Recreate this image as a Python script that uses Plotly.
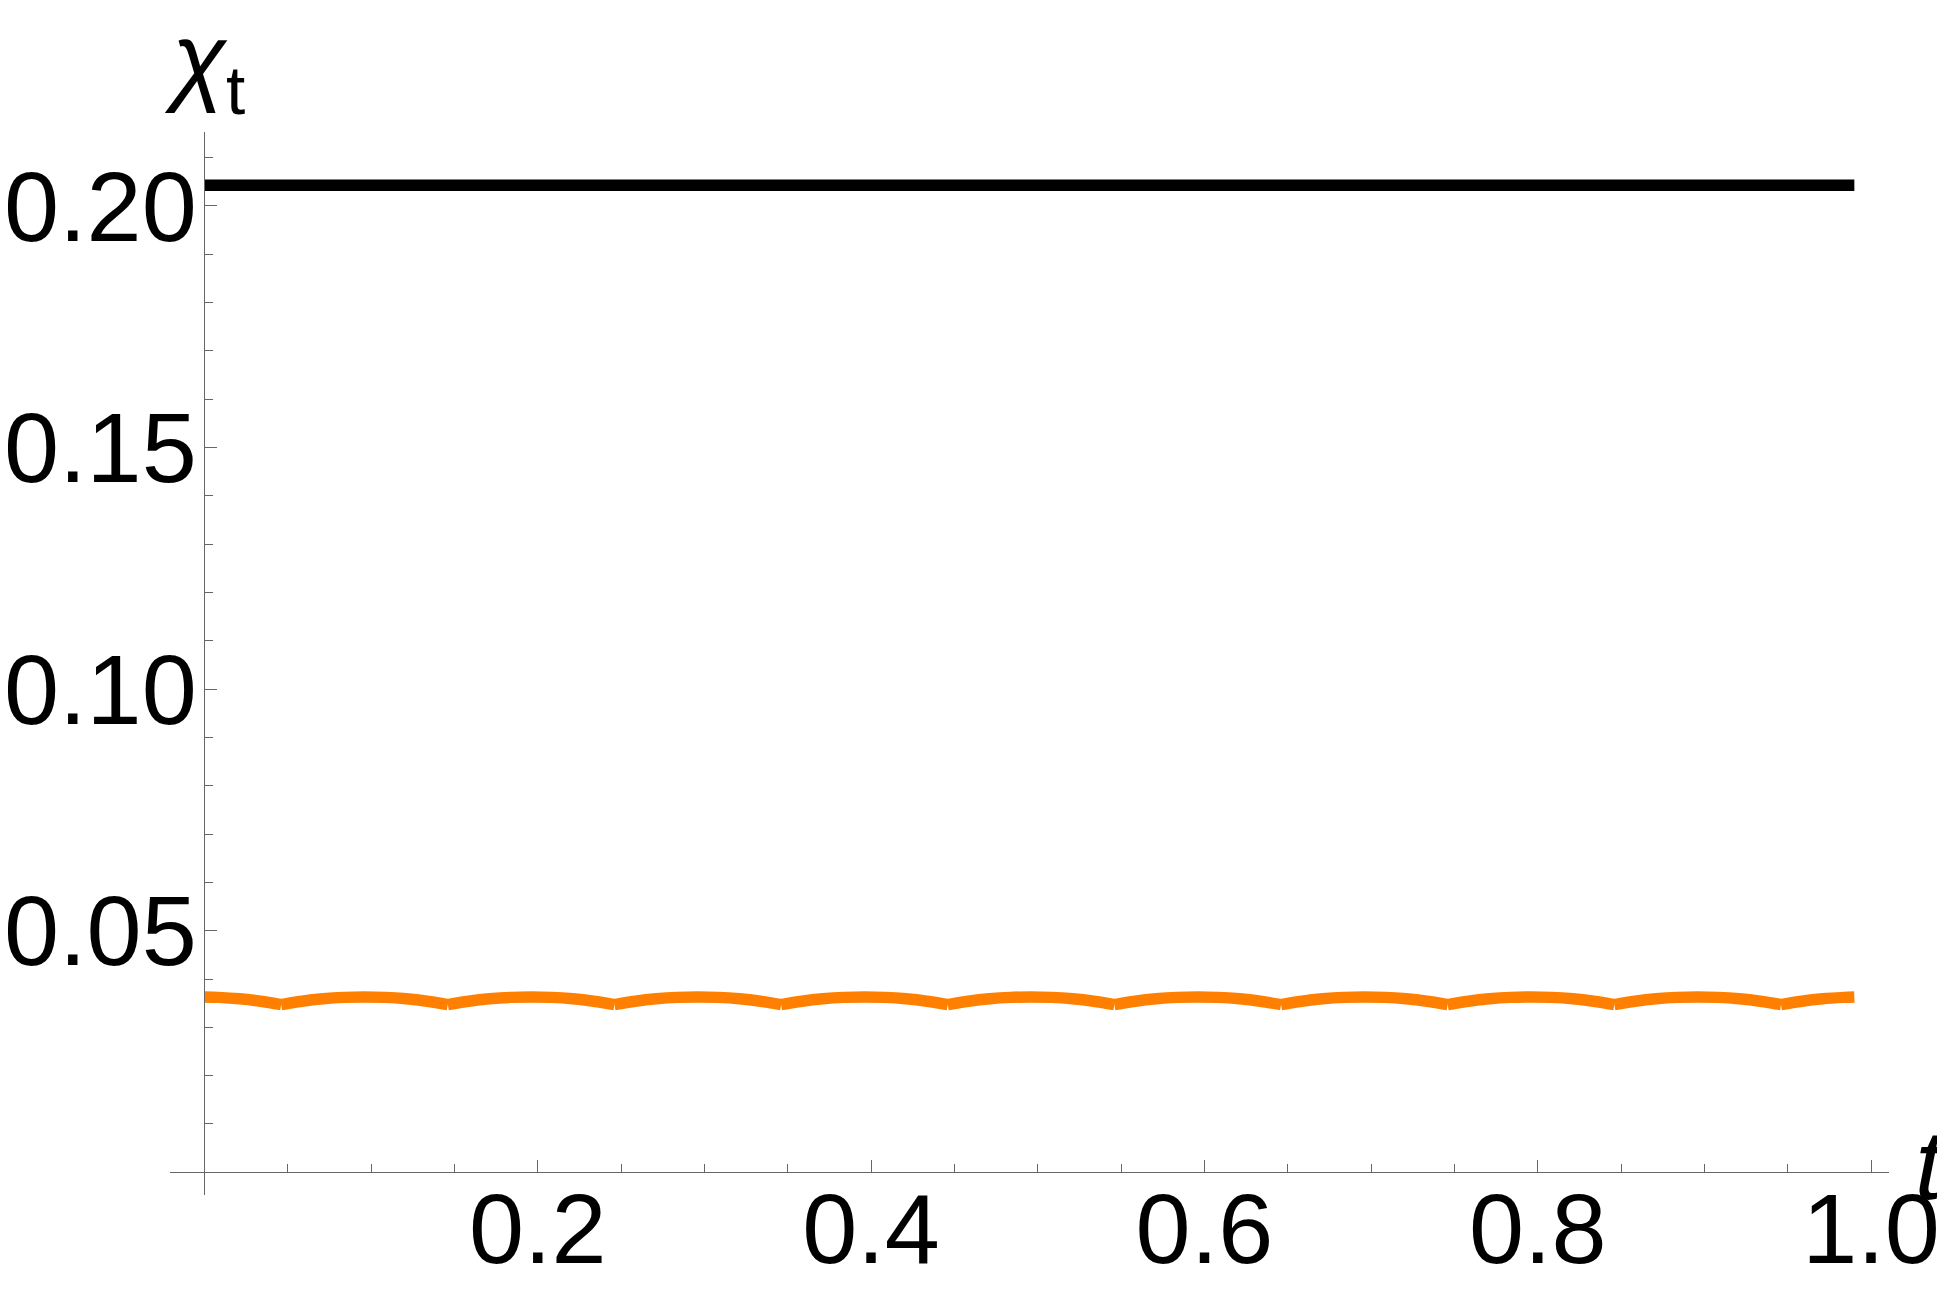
import plotly.graph_objects as go

# ligne noire (constante)
t_black = [0.0, 0.99]
x_black = [0.2043, 0.2043]

# courbe orange : arcs entre les points de rebroussement (None = coupure)
t_orange = [0.0, 0.0085, 0.021, 0.0335, 0.046, None,
            0.046, 0.0585, 0.071, 0.0835, 0.096, 0.1085, 0.121, 0.1335, 0.146, None,
            0.146, 0.1585, 0.171, 0.1835, 0.196, 0.2085, 0.221, 0.2335, 0.246, None,
            0.246, 0.2585, 0.271, 0.2835, 0.296, 0.3085, 0.321, 0.3335, 0.346, None,
            0.346, 0.3585, 0.371, 0.3835, 0.396, 0.4085, 0.421, 0.4335, 0.446, None,
            0.446, 0.4585, 0.471, 0.4835, 0.496, 0.5085, 0.521, 0.5335, 0.546, None,
            0.546, 0.5585, 0.571, 0.5835, 0.596, 0.6085, 0.621, 0.6335, 0.646, None,
            0.646, 0.6585, 0.671, 0.6835, 0.696, 0.7085, 0.721, 0.7335, 0.746, None,
            0.746, 0.7585, 0.771, 0.7835, 0.796, 0.8085, 0.821, 0.8335, 0.846, None,
            0.846, 0.8585, 0.871, 0.8835, 0.896, 0.9085, 0.921, 0.9335, 0.946, None,
            0.946, 0.9585, 0.971, 0.9835, 0.99]
x_orange = [0.0363, 0.0362, 0.0359, 0.0354, 0.0347, None,
            0.0347, 0.0354, 0.0359, 0.0362, 0.0363, 0.0362, 0.0359, 0.0354, 0.0347, None,
            0.0347, 0.0354, 0.0359, 0.0362, 0.0363, 0.0362, 0.0359, 0.0354, 0.0347, None,
            0.0347, 0.0354, 0.0359, 0.0362, 0.0363, 0.0362, 0.0359, 0.0354, 0.0347, None,
            0.0347, 0.0354, 0.0359, 0.0362, 0.0363, 0.0362, 0.0359, 0.0354, 0.0347, None,
            0.0347, 0.0354, 0.0359, 0.0362, 0.0363, 0.0362, 0.0359, 0.0354, 0.0347, None,
            0.0347, 0.0354, 0.0359, 0.0362, 0.0363, 0.0362, 0.0359, 0.0354, 0.0347, None,
            0.0347, 0.0354, 0.0359, 0.0362, 0.0363, 0.0362, 0.0359, 0.0354, 0.0347, None,
            0.0347, 0.0354, 0.0359, 0.0362, 0.0363, 0.0362, 0.0359, 0.0354, 0.0347, None,
            0.0347, 0.0354, 0.0359, 0.0362, 0.0363, 0.0362, 0.0359, 0.0354, 0.0347, None,
            0.0347, 0.0354, 0.0359, 0.0362, 0.0363]

# graduations
x_ticks = [0.2, 0.4, 0.6, 0.8, 1.0]
x_labels = ["0.2", "0.4", "0.6", "0.8", "1.0"]
x_minor = [0.05, 0.1, 0.15, 0.25, 0.3, 0.35, 0.45, 0.5, 0.55, 0.65, 0.7, 0.75, 0.85, 0.9, 0.95]
y_ticks = [0.05, 0.10, 0.15, 0.20]
y_labels = ["0.05", "0.10", "0.15", "0.20"]
y_minor = [0.01, 0.02, 0.03, 0.04, 0.06, 0.07, 0.08, 0.09, 0.11, 0.12, 0.13, 0.14,
           0.16, 0.17, 0.18, 0.19, 0.21]

x_range = [-0.0207, 1.0108]
y_range = [-0.0047, 0.2153]

axis_col = "#666666"
font_fam = "Liberation Sans, Arial, sans-serif"

fig = go.Figure()
fig.add_trace(go.Scatter(x=t_black, y=x_black, mode='lines', line=dict(color='black', width=11.5)))
fig.add_trace(go.Scatter(x=t_orange, y=x_orange, mode='lines', connectgaps=False,
                         line=dict(color='#ff8000', width=11.5, shape='spline', smoothing=1)))

# axes style Mathematica : croisement à l'origine
fig.update_xaxes(range=x_range, anchor='free', position=(0 - y_range[0]) / (y_range[1] - y_range[0]),
                 showgrid=False, zeroline=False, showline=True, linecolor=axis_col, linewidth=1,
                 tickmode='array', tickvals=x_ticks, ticktext=x_labels,
                 ticks='inside', ticklen=12, tickwidth=1, tickcolor=axis_col,
                 minor=dict(tickmode='array', tickvals=x_minor, ticks='inside', ticklen=8,
                            tickwidth=1, tickcolor=axis_col, showgrid=False),
                 tickfont=dict(family=font_fam, size=99, color='black'),
                 ticklabelstandoff=-29, automargin=False)
fig.update_yaxes(range=y_range, anchor='free', position=(0 - x_range[0]) / (x_range[1] - x_range[0]),
                 showgrid=False, zeroline=False, showline=True, linecolor=axis_col, linewidth=1,
                 tickmode='array', tickvals=y_ticks, ticktext=y_labels,
                 ticks='inside', ticklen=12, tickwidth=1, tickcolor=axis_col,
                 minor=dict(tickmode='array', tickvals=y_minor, ticks='inside', ticklen=8,
                            tickwidth=1, tickcolor=axis_col, showgrid=False),
                 tickfont=dict(family=font_fam, size=99, color='black'),
                 ticklabelstandoff=-12, automargin=False)

# étiquettes des axes
fig.add_annotation(x=0, xref='x', y=1, yref='paper', yanchor='bottom', xanchor='center',
                   text="<i>χ</i><sub>t</sub>", showarrow=False, yshift=1,
                   font=dict(family=font_fam, size=99, color='black'))
fig.add_annotation(x=1, xref='paper', y=0, yref='y', xanchor='left', yanchor='bottom',
                   text="<i>t</i>", showarrow=False, xshift=24, yshift=-50,
                   font=dict(family=font_fam, size=99, color='black'))

# la page ajoute une marge de 8 px : on la compense
fig.update_layout(width=1937, height=1286, showlegend=False,
                  margin=dict(l=162, r=56, t=124, b=99),
                  paper_bgcolor='white', plot_bgcolor='white')

fig.write_html("out.html")
